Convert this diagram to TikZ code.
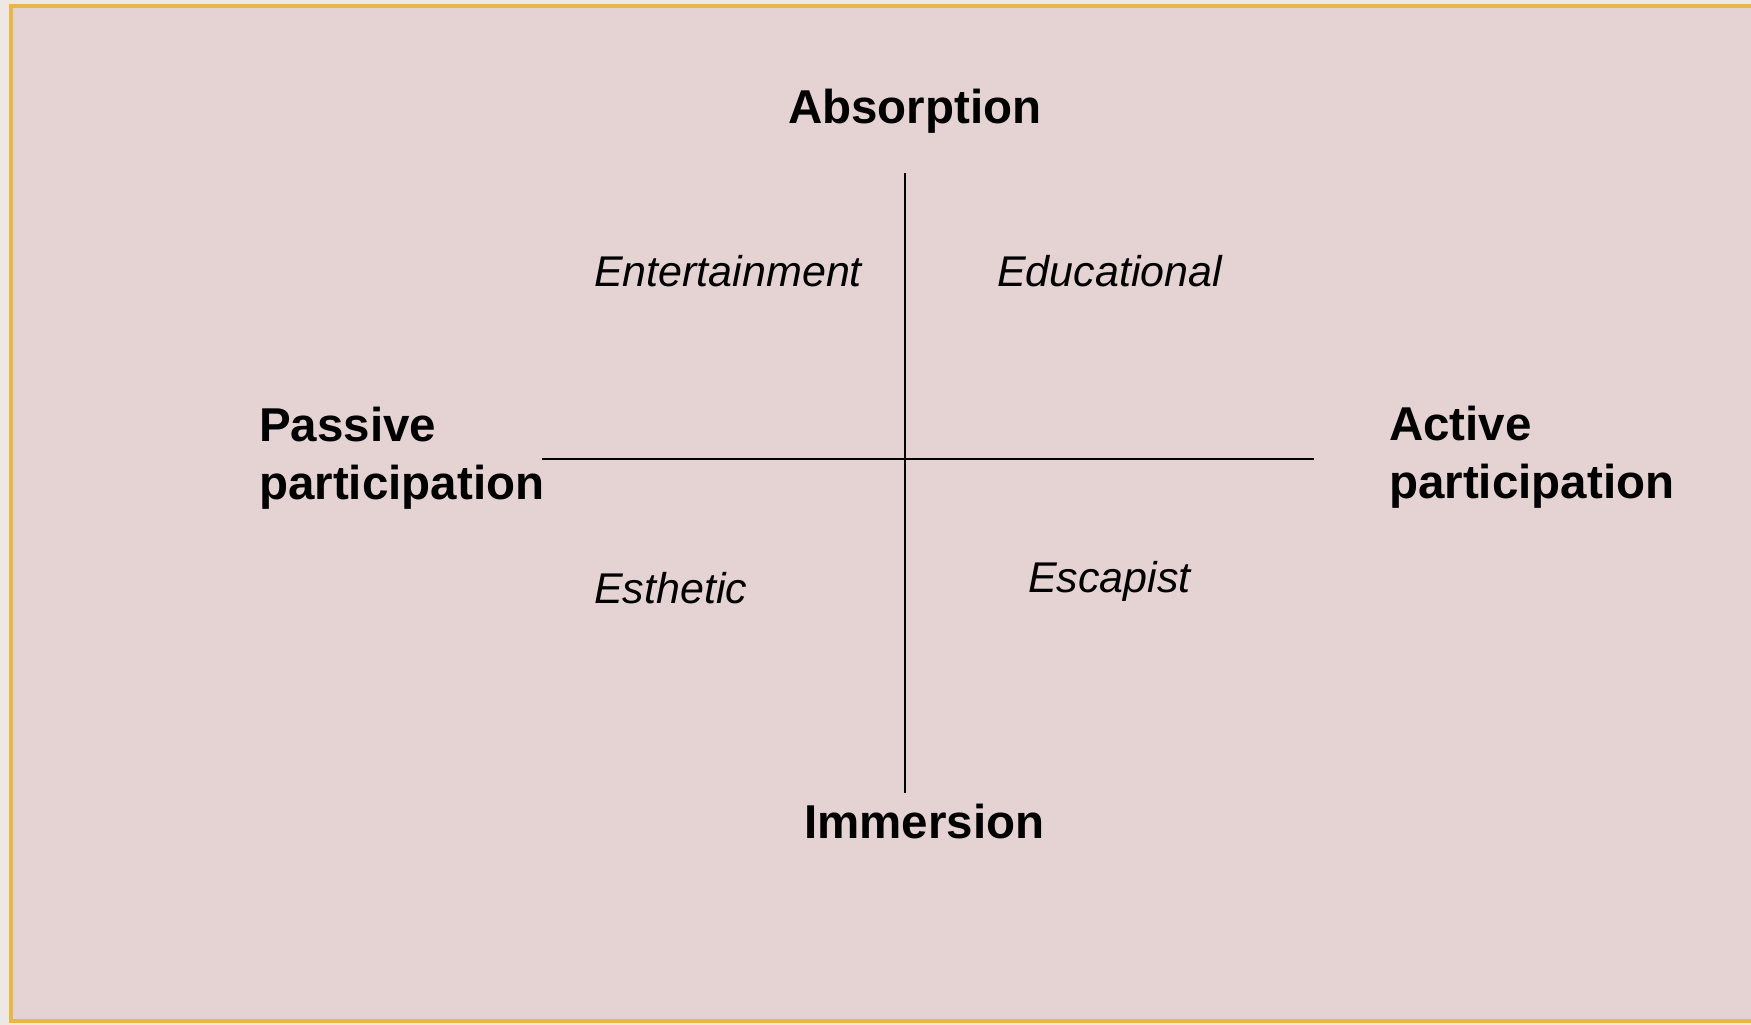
\documentclass[tikz,border=0pt]{standalone}
\usepackage{fontspec}
\setmainfont{Liberation Sans}
\definecolor{paper}{RGB}{229,211,212}
\definecolor{paperedge}{RGB}{238,232,228}
\definecolor{frame}{RGB}{230,184,74}
\begin{document}
\begin{tikzpicture}[x=1pt,y=-1pt,
  axislabel/.style={inner sep=0pt, font=\fontsize{47.5}{58}\selectfont\bfseries, align=left},
  quadlabel/.style={inner sep=0pt, anchor=base west, font=\fontsize{43}{50}\selectfont\itshape},
  axisline/.style={line width=2pt, black}]
  % page and framed slide
  \useasboundingbox (0,0) rectangle (1751,1025);
  \fill[paperedge] (0,0) rectangle (1751,1025);
  \fill[paper] (11,6) rectangle (1751,1021);
  \draw[frame, line width=4.5pt] (1751,6) -- (11,6) -- (11,1021) -- (1751,1021);

  % axes
  \coordinate (top) at (905,173);
  \coordinate (bottom) at (905,793);
  \coordinate (left) at (542,459);
  \coordinate (right) at (1314,459);
  \draw[axisline] (top) -- (bottom);
  \draw[axisline] (left) -- (right);

  % axis labels
  \node[axislabel, anchor=base west] (absorption) at (788,123) {Absorption};
  \node[axislabel, anchor=base west] (immersion) at (804,838) {Immersion};
  \node[axislabel, anchor=north west] (passive) at (259,407) {Passive\\participation};
  \node[axislabel, anchor=north west] (active) at (1389,406) {Active\\participation};

  % quadrant labels
  \node[quadlabel] (entertainment) at (594,286) {Entertainment};
  \node[quadlabel] (educational) at (997,286) {Educational};
  \node[quadlabel] (esthetic) at (594,603) {Esthetic};
  \node[quadlabel] (escapist) at (1028,592) {Escapist};
\end{tikzpicture}
\end{document}
